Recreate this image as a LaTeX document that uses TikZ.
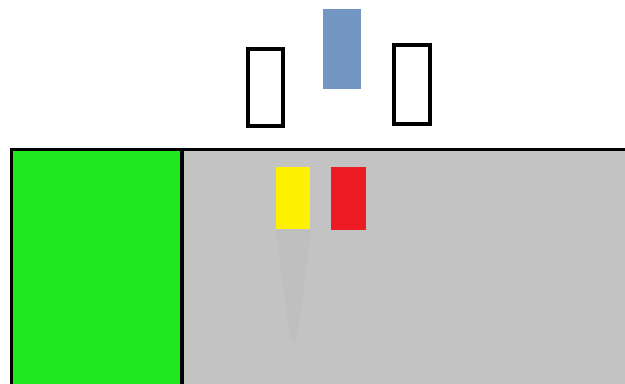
\documentclass[tikz,border=0pt]{standalone}
\usepackage{tikz}
\definecolor{grass}{HTML}{1FE81F}
\definecolor{floor}{HTML}{C3C3C3}
\definecolor{steel}{HTML}{7396C3}
\definecolor{lamp}{HTML}{FFF200}
\definecolor{stop}{HTML}{ED1C24}
\tikzset{
  frame/.style={draw=black,line width=0.11cm,inner sep=0pt},
  block/.style={draw=none,inner sep=0pt}
}
\begin{document}
\begin{tikzpicture}[x=0.03cm,y=-0.03cm]
  \useasboundingbox (0,0) rectangle (625,383);
  \clip (0,0) rectangle (625,383);
  % ground
  \draw[line width=0.1cm,fill=grass] (11.5,149.5) rectangle (182,420);
  \draw[line width=0.1cm,fill=floor] (182,149.5) rectangle (660,420);
  % faint trail below the yellow block
  \fill[black,opacity=0.02] (276,230) -- (311,230) -- (297,340) -- (290,340) -- cycle;
  % blocks
  \node[frame,minimum width=1.05cm,minimum height=2.31cm] (left) at (265.5,87.5) {};
  \node[frame,minimum width=1.08cm,minimum height=2.37cm] (right) at (412,84.5) {};
  \node[block,fill=steel,minimum width=1.14cm,minimum height=2.4cm] (top) at (342,49) {};
  \node[block,fill=lamp,minimum width=1.02cm,minimum height=1.86cm] (yellow) at (293,198) {};
  \node[block,fill=stop,minimum width=1.05cm,minimum height=1.89cm] (red) at (348.5,198.5) {};
\end{tikzpicture}
\end{document}
